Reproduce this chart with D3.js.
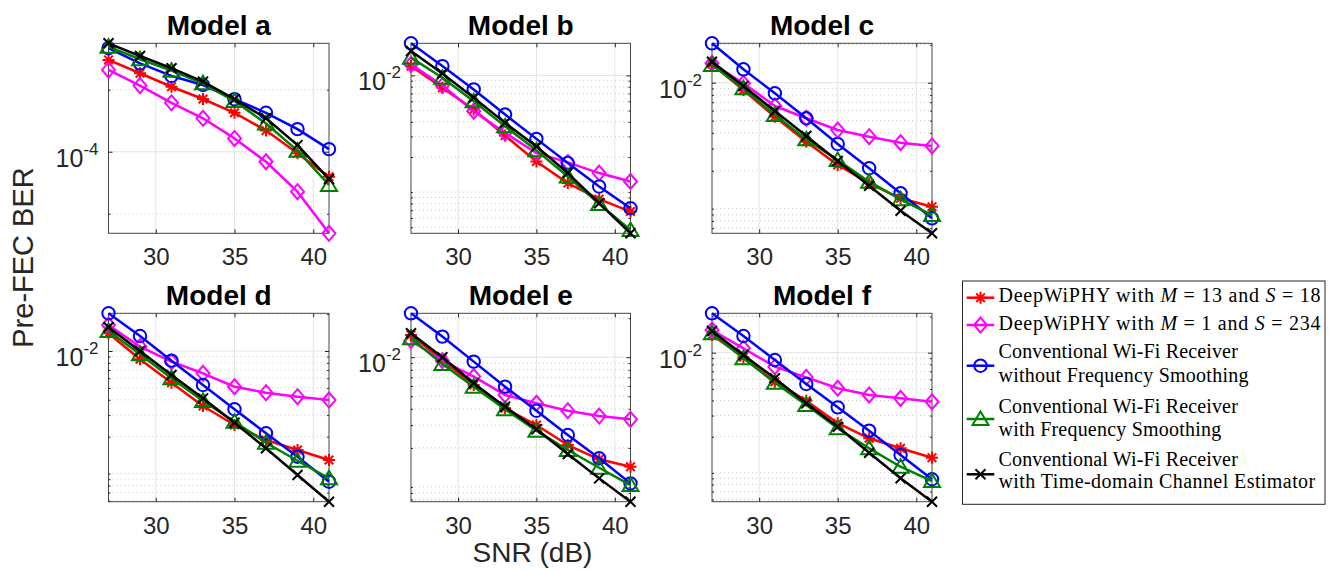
<!DOCTYPE html>
<html>
<head>
<meta charset="utf-8">
<script src="https://cdn.jsdelivr.net/npm/d3@7"></script>
<style>
  html, body { margin: 0; padding: 0; background: #fff; }
  svg text { white-space: pre; }
</style>
</head>
<body>
<script>
// ---------------- DATA ----------------
const snr = [27, 29, 31, 33, 35, 37, 39, 41];
const panelTitles = ["Model a", "Model b", "Model c", "Model d", "Model e", "Model f"];
const xTickValues = [30, 35, 40];
// exponent of the one labelled y tick in each panel
const yTickExponents = [-4, -2, -2, -2, -2, -2];
// panel a uses half-decade minor grid lines
const panelAMinorGrid = [3.162e-4, 3.162e-5];

const seriesNames = [
  "DeepWiPHY with M = 13 and S = 18",
  "DeepWiPHY with M = 1 and S = 234",
  "Conventional Wi-Fi Receiver without Frequency Smoothing",
  "Conventional Wi-Fi Receiver with Frequency Smoothing",
  "Conventional Wi-Fi Receiver with Time-domain Channel Estimator"
];

// each row: one panel (a..f), values at snr
const deepM13 = [
  [5.49e-4, 4.29e-4, 3.34e-4, 2.66e-4, 2.06e-4, 1.48e-4, 9.7e-5, 6.29e-5],
  [1.202e-2, 7.84e-3, 5.10e-3, 3.05e-3, 1.833e-3, 1.195e-3, 8.71e-4, 6.81e-4],
  [1.400e-2, 8.75e-3, 5.37e-3, 3.40e-3, 2.222e-3, 1.591e-3, 1.209e-3, 1.037e-3],
  [1.394e-2, 8.56e-3, 5.51e-3, 3.56e-3, 2.49e-3, 1.879e-3, 1.558e-3, 1.291e-3],
  [1.486e-2, 9.53e-3, 6.11e-3, 4.04e-3, 3.00e-3, 2.105e-3, 1.633e-3, 1.432e-3],
  [1.404e-2, 9.16e-3, 5.74e-3, 3.99e-3, 2.59e-3, 1.941e-3, 1.602e-3, 1.338e-3]
];
const deepM1 = [
  [4.56e-4, 3.41e-4, 2.48e-4, 1.86e-4, 1.28e-4, 8.3e-5, 4.76e-5, 2.20e-5],
  [1.243e-2, 8.20e-3, 4.93e-3, 3.22e-3, 2.164e-3, 1.797e-3, 1.457e-3, 1.233e-3],
  [1.426e-2, 9.89e-3, 6.53e-3, 5.22e-3, 4.21e-3, 3.73e-3, 3.34e-3, 3.15e-3],
  [1.630e-2, 1.084e-2, 8.18e-3, 6.58e-3, 5.11e-3, 4.57e-3, 4.24e-3, 3.98e-3],
  [1.343e-2, 9.41e-3, 7.09e-3, 5.12e-3, 4.42e-3, 3.87e-3, 3.52e-3, 3.32e-3],
  [1.545e-2, 1.088e-2, 7.65e-3, 6.24e-3, 5.06e-3, 4.45e-3, 4.17e-3, 3.91e-3]
];
const convNoSmoothing = [
  [6.83e-4, 5.16e-4, 4.08e-4, 3.45e-4, 2.65e-4, 2.06e-4, 1.52e-4, 1.05e-4],
  [1.884e-2, 1.202e-2, 7.58e-3, 4.62e-3, 2.86e-3, 1.776e-3, 1.117e-3, 7.28e-4],
  [2.054e-2, 1.277e-2, 8.24e-3, 5.22e-3, 3.26e-3, 2.093e-3, 1.325e-3, 8.39e-4],
  [2.03e-2, 1.325e-2, 8.34e-3, 5.28e-3, 3.35e-3, 2.132e-3, 1.374e-3, 8.59e-4],
  [2.18e-2, 1.442e-2, 9.25e-3, 5.93e-3, 3.87e-3, 2.515e-3, 1.663e-3, 1.066e-3],
  [2.127e-2, 1.377e-2, 8.69e-3, 5.49e-3, 3.51e-3, 2.245e-3, 1.409e-3, 8.85e-4]
];
const convSmoothing = [
  [7.03e-4, 5.56e-4, 4.50e-4, 3.56e-4, 2.56e-4, 1.69e-4, 1.02e-4, 5.39e-5],
  [1.420e-2, 9.55e-3, 6.01e-3, 3.66e-3, 2.28e-3, 1.362e-3, 7.93e-4, 4.74e-4],
  [1.382e-2, 9.03e-3, 5.54e-3, 3.55e-3, 2.435e-3, 1.638e-3, 1.187e-3, 8.91e-4],
  [1.456e-2, 9.40e-3, 5.99e-3, 3.91e-3, 2.65e-3, 1.786e-3, 1.274e-3, 9.16e-4],
  [1.402e-2, 8.88e-3, 5.93e-3, 3.97e-3, 2.715e-3, 1.926e-3, 1.406e-3, 1.034e-3],
  [1.450e-2, 8.98e-3, 5.63e-3, 3.67e-3, 2.35e-3, 1.602e-3, 1.126e-3, 8.56e-4]
];
const convTimeDomain = [
  [7.48e-4, 5.91e-4, 4.71e-4, 3.67e-4, 2.65e-4, 1.86e-4, 1.13e-4, 6.02e-5],
  [1.618e-2, 1.040e-2, 6.43e-3, 3.92e-3, 2.466e-3, 1.457e-3, 8.04e-4, 4.44e-4],
  [1.468e-2, 9.41e-3, 5.96e-3, 3.78e-3, 2.39e-3, 1.522e-3, 9.64e-4, 6.38e-4],
  [1.561e-2, 1.0e-2, 6.37e-3, 4.11e-3, 2.60e-3, 1.608e-3, 9.74e-4, 5.9e-4],
  [1.532e-2, 1.0e-2, 6.30e-3, 4.16e-3, 2.78e-3, 1.794e-3, 1.165e-3, 7.7e-4],
  [1.515e-2, 9.57e-3, 6.12e-3, 3.79e-3, 2.423e-3, 1.473e-3, 9.02e-4, 5.76e-4]
];

// ---------------- STYLE / LAYOUT ----------------
const seriesStyles = [
  { data: deepM13, color: "#ff0000", marker: "asterisk" },
  { data: deepM1, color: "#ff00ff", marker: "diamond" },
  { data: convNoSmoothing, color: "#0000ff", marker: "circle" },
  { data: convSmoothing, color: "#008000", marker: "triangle" },
  { data: convTimeDomain, color: "#000000", marker: "cross" }
];

const colLeft = [108.5, 411, 712];
const colWidth = [220.5, 219.5, 220];
const rowTop = [43.3, 313.3];
const rowHeight = [190, 188.4];
const axisColor = "#262626";
const font = "'Liberation Sans', Arial, Helvetica, sans-serif";
const serif = "'Liberation Serif', 'Times New Roman', serif";

const svg = d3.select("body").append("svg")
  .attr("width", 1332).attr("height", 572)
  .style("display", "block");

function markerPath(type) {
  switch (type) {
    case "asterisk": {
      const s = 6, t = 4.3;
      return `M0,${-s}V${s}M${-s},0H${s}M${-t},${-t}L${t},${t}M${-t},${t}L${t},${-t}`;
    }
    case "diamond": return "M0,-7.5L6.5,0L0,7.5L-6.5,0Z";
    case "triangle": return "M0,-7.5L8,6L-8,6Z";
    case "cross": return "M-5,-5L5,5M-5,5L5,-5";
  }
  return null;
}
function drawMarker(g, type, color, cx, cy) {
  if (type === "circle") {
    g.append("circle").attr("cx", cx).attr("cy", cy).attr("r", 6.2)
      .attr("fill", "none").attr("stroke", color).attr("stroke-width", 2);
  } else {
    g.append("path").attr("d", markerPath(type))
      .attr("transform", `translate(${cx},${cy})`)
      .attr("fill", "none").attr("stroke", color).attr("stroke-width", 2)
      .attr("stroke-linejoin", "miter");
  }
}

panelTitles.forEach((title, i) => {
  const col = i % 3, row = Math.floor(i / 3);
  const left = colLeft[col], w = colWidth[col];
  const top = rowTop[row], h = rowHeight[row];

  const x = d3.scaleLinear().domain([27, 41]).range([left, left + w]);
  const allVals = seriesStyles.flatMap(s => s.data[i]);
  const y = d3.scaleLog().domain(d3.extent(allVals)).range([top + h, top]);
  const [ymin, ymax] = y.domain();
  const major = Math.pow(10, yTickExponents[i]);

  // minor grid values
  let minor = [];
  if (i === 0) {
    minor = panelAMinorGrid.slice();
  } else {
    for (let e = Math.floor(Math.log10(ymin)); e <= Math.ceil(Math.log10(ymax)); e++) {
      for (let k = 1; k <= 9; k++) {
        if (k === 1 && e === yTickExponents[i]) continue;
        minor.push(k * Math.pow(10, e));
      }
    }
  }
  minor = minor.filter(v => v > ymin && v < ymax);

  const g = svg.append("g");

  // grid
  g.append("g").selectAll("line").data(minor).join("line")
    .attr("x1", left).attr("x2", left + w)
    .attr("y1", d => y(d)).attr("y2", d => y(d))
    .attr("stroke", "#c8c8c8").attr("stroke-width", 1)
    .attr("stroke-dasharray", "1,3");
  g.append("g").selectAll("line").data(xTickValues).join("line")
    .attr("x1", d => x(d)).attr("x2", d => x(d))
    .attr("y1", top).attr("y2", top + h)
    .attr("stroke", "#e3e3e3").attr("stroke-width", 1);
  g.append("line")
    .attr("x1", left).attr("x2", left + w)
    .attr("y1", y(major)).attr("y2", y(major))
    .attr("stroke", "#e3e3e3").attr("stroke-width", 1);

  // axes: ticks
  const xb = g.append("g").attr("transform", `translate(0,${top + h})`)
    .call(d3.axisBottom(x).tickValues(xTickValues).tickSize(-4).tickPadding(15));
  xb.select(".domain").remove();
  xb.selectAll("line").attr("stroke", axisColor);
  xb.selectAll("text").attr("font-family", font).attr("font-size", 24).attr("fill", axisColor);

  const xt = g.append("g").attr("transform", `translate(0,${top})`)
    .call(d3.axisTop(x).tickValues(xTickValues).tickSize(-4).tickFormat(""));
  xt.select(".domain").remove();
  xt.selectAll("line").attr("stroke", axisColor);

  const yl = g.append("g").attr("transform", `translate(${left},0)`)
    .call(d3.axisLeft(y).tickValues([major]).tickSize(-4).tickPadding(10)
      .tickFormat(() => ""));
  yl.select(".domain").remove();
  yl.selectAll("line").attr("stroke", axisColor);
  const lbl = yl.selectAll(".tick text")
    .attr("dy", null).attr("y", 14.5)
    .attr("font-family", font).attr("fill", axisColor).attr("text-anchor", "end");
  lbl.append("tspan").attr("font-size", 25).text("10");
  lbl.append("tspan").attr("font-size", 17).attr("dy", -12).text("-" + Math.abs(yTickExponents[i]));

  const ylMinor = g.append("g").attr("transform", `translate(${left},0)`)
    .call(d3.axisLeft(y).tickValues(minor).tickSize(-2).tickFormat(""));
  ylMinor.select(".domain").remove();
  ylMinor.selectAll("line").attr("stroke", axisColor);

  const yr = g.append("g").attr("transform", `translate(${left + w},0)`)
    .call(d3.axisRight(y).tickValues([major]).tickSize(-4).tickFormat(""));
  yr.select(".domain").remove();
  yr.selectAll("line").attr("stroke", axisColor);
  const yrMinor = g.append("g").attr("transform", `translate(${left + w},0)`)
    .call(d3.axisRight(y).tickValues(minor).tickSize(-2).tickFormat(""));
  yrMinor.select(".domain").remove();
  yrMinor.selectAll("line").attr("stroke", axisColor);

  // box
  g.append("rect").attr("x", left).attr("y", top).attr("width", w).attr("height", h)
    .attr("fill", "none").attr("stroke", axisColor).attr("stroke-width", 1)
    .attr("stroke-opacity", 0.85);

  // title
  g.append("text").attr("x", left + w / 2).attr("y", top - 8.5)
    .attr("text-anchor", "middle").attr("font-family", font)
    .attr("font-weight", "bold").attr("font-size", 28).attr("fill", "#000")
    .text(title);

  // series
  const line = d3.line().x((d, j) => x(snr[j])).y(d => y(d));
  seriesStyles.forEach(s => {
    const sg = g.append("g");
    sg.append("path").attr("d", line(s.data[i]))
      .attr("fill", "none").attr("stroke", s.color).attr("stroke-width", 2.5)
      .attr("stroke-linejoin", "round");
    s.data[i].forEach((v, j) => drawMarker(sg, s.marker, s.color, x(snr[j]), y(v)));
  });
});

// axis labels
svg.append("text").attr("transform", "translate(33,257.5) rotate(-90)")
  .attr("text-anchor", "middle").attr("font-family", font).attr("font-size", 29)
  .attr("fill", axisColor).text("Pre-FEC BER");
svg.append("text").attr("x", 532.5).attr("y", 561.7)
  .attr("text-anchor", "middle").attr("font-family", font).attr("font-size", 28)
  .attr("fill", axisColor).text("SNR (dB)");

// legend
const legend = svg.append("g");
legend.append("rect").attr("x", 962.5).attr("y", 281).attr("width", 362.5).attr("height", 223.3)
  .attr("fill", "#fff").attr("stroke", axisColor).attr("stroke-width", 1);

const legendRows = [
  { symY: 297.7, lines: [[["DeepWiPHY with ", false], ["M", true], [" = 13 and ", false], ["S", true], [" = 18", false]]], base: [302.3], len: [322] },
  { symY: 325, lines: [[["DeepWiPHY with ", false], ["M", true], [" = 1 and ", false], ["S", true], [" = 234", false]]], base: [330], len: [322] },
  { symY: 365.7, lines: [[["Conventional Wi-Fi Receiver", false]], [["without Frequency Smoothing", false]]], base: [358.3, 382.3], len: [239.3, 250] },
  { symY: 419, lines: [[["Conventional Wi-Fi Receiver", false]], [["with Frequency Smoothing", false]]], base: [412.7, 435.7], len: [239.3, 222.7] },
  { symY: 474.3, lines: [[["Conventional Wi-Fi Receiver", false]], [["with Time-domain Channel Estimator", false]]], base: [466, 488.3], len: [239.3, 316.7] }
];
legendRows.forEach((r, k) => {
  const s = seriesStyles[k];
  legend.append("line").attr("x1", 966.7).attr("x2", 994.3)
    .attr("y1", r.symY).attr("y2", r.symY)
    .attr("stroke", s.color).attr("stroke-width", 2.5);
  drawMarker(legend, s.marker, s.color, 980.5, r.symY);
  r.lines.forEach((parts, li) => {
    const t = legend.append("text").attr("x", 998.5).attr("y", r.base[li])
      .attr("font-family", serif).attr("font-size", 20).attr("fill", "#000")
      .attr("textLength", r.len[li]).attr("lengthAdjust", "spacing");
    parts.forEach(([txt, it]) => {
      t.append("tspan").attr("font-style", it ? "italic" : "normal").text(txt);
    });
  });
});
</script>
</body>
</html>
